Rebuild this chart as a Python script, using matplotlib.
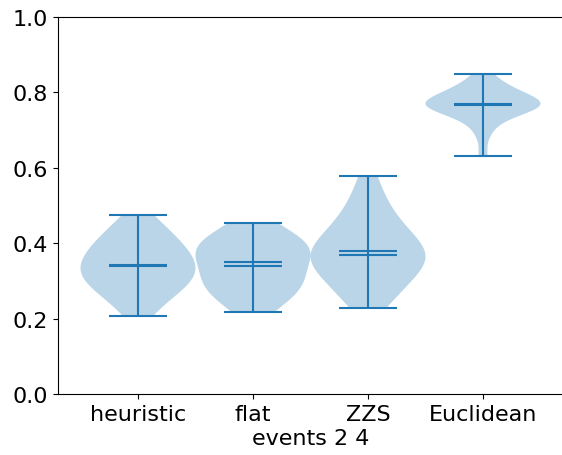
import matplotlib
matplotlib.use("Agg")
import matplotlib.pyplot as plt

labels = ["heuristic", "flat", "ZZS", "Euclidean"]

heuristic = [0.207, 0.233, 0.251, 0.264, 0.276, 0.285, 0.294, 0.302, 0.310, 0.317,
             0.324, 0.332, 0.339, 0.347, 0.355, 0.362, 0.371, 0.380, 0.389, 0.398,
             0.410, 0.422, 0.434, 0.451, 0.475]
flat = [0.217, 0.238, 0.254, 0.268, 0.279, 0.290, 0.300, 0.310, 0.320, 0.329, 0.351,
        0.356, 0.365, 0.374, 0.382, 0.391, 0.400, 0.410, 0.421, 0.433, 0.454]
zzs = [0.227, 0.25, 0.268, 0.284, 0.298, 0.31, 0.322, 0.333, 0.343, 0.351, 0.358,
       0.364, 0.369, 0.378, 0.387, 0.396, 0.406, 0.417, 0.429, 0.443, 0.459, 0.478,
       0.502, 0.532, 0.577]
euclidean = [0.631, 0.685, 0.712, 0.728, 0.739, 0.747, 0.753, 0.758, 0.761, 0.763,
             0.765, 0.767, 0.768, 0.770, 0.773, 0.777, 0.781, 0.786, 0.791, 0.797,
             0.803, 0.810, 0.818, 0.830, 0.849]

plt.rcParams["font.size"] = 16

fig = plt.figure(figsize=(5.62, 4.56), dpi=100)
ax = fig.add_axes([57.5 / 562, 61 / 456, 506 / 562, 377 / 456])

positions = [1, 2, 3, 4]
ax.violinplot([heuristic, flat, zzs, euclidean], positions=positions, widths=1.0,
              showmeans=True, showmedians=True)

ax.set_xticks(positions)
ax.set_xticklabels(labels)
ax.set_xlim(0.3, 4.7)
ax.set_ylim(0.0, 1.0)
ax.set_xlabel("events 2 4", labelpad=3)

fig.savefig("out.png", dpi=100)
